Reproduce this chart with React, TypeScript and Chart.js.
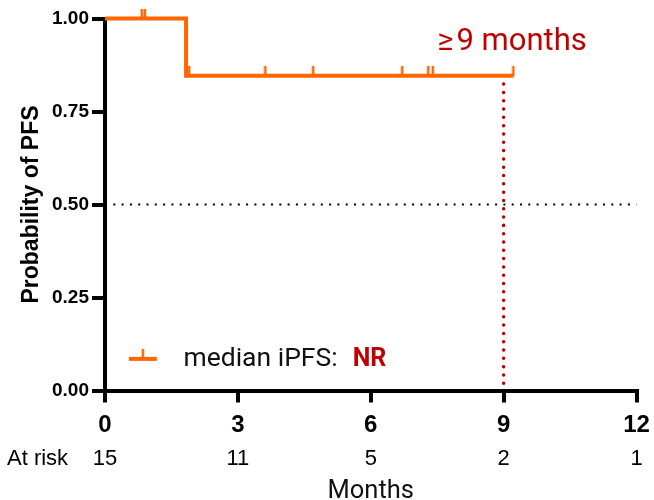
import React, { useEffect, useRef } from "react";
import { Chart, registerables } from "chart.js";

Chart.register(...registerables);

// ---- data ----
const kmTimes = [0, 1.83, 9.22];
const kmSurvival = [1, 0.846, 0.846];
const censorTimes = [0.83, 0.9, 1.9, 3.62, 4.7, 6.71, 7.3, 7.4, 9.22];
const censorSurvival = [1, 1, 0.846, 0.846, 0.846, 0.846, 0.846, 0.846, 0.846];
const xTickValues = [0, 3, 6, 9, 12];
const yTickValues = [0, 0.25, 0.5, 0.75, 1];
const atRiskTimes = [0, 3, 6, 9, 12];
const atRiskCounts = [15, 11, 5, 2, 1];
const medianRefTimes = [9, 9];
const medianRefSurvival = [0.846, 0];
const halfRefTimes = [0, 12];
const halfRefSurvival = [0.5, 0.5];
const annotationSymbol = "≥";
const annotationText = "9 months";
const legendLabel = "median iPFS:";
const legendValue = "NR";

const ORANGE = "#FF6600";
const DARKRED = "#C00000";
const ARIAL = "'Liberation Sans', Arial, sans-serif";
const ROBOTO = "Roboto, 'Liberation Sans', sans-serif";

function makeCensorMark(): HTMLCanvasElement {
  const c = document.createElement("canvas");
  c.width = 4;
  c.height = 19;
  const g = c.getContext("2d")!;
  g.fillStyle = ORANGE;
  g.fillRect(0.75, 0, 2.5, 10);
  return c;
}

export default function App() {
  const ref = useRef<HTMLCanvasElement | null>(null);

  useEffect(() => {
    const canvas = ref.current;
    if (!canvas) return;
    const mark = makeCensorMark();

    const overlay = {
      id: "overlay",
      afterDraw(chart: any) {
        const ctx = chart.ctx as CanvasRenderingContext2D;
        const xs = chart.scales.x;
        const ys = chart.scales.y;
        ctx.save();
        // At-risk row
        ctx.fillStyle = "#000";
        ctx.font = `22px ${ARIAL}`;
        ctx.textBaseline = "alphabetic";
        ctx.textAlign = "left";
        ctx.fillText("At risk", 7, 465);
        ctx.textAlign = "center";
        atRiskTimes.forEach((t, i) => {
          ctx.fillText(String(atRiskCounts[i]), xs.getPixelForValue(t), 465);
        });
        // annotation
        ctx.fillStyle = DARKRED;
        ctx.font = `31px ${ROBOTO}`;
        ctx.textAlign = "left";
        const ax = xs.getPixelForValue(7.5);
        const ay = ys.getPixelForValue(0.915);
        ctx.fillText(annotationSymbol, ax, ay);
        const sw = ctx.measureText(annotationSymbol).width;
        ctx.fillText(annotationText, ax + sw + 3, ay);
        // legend
        const lx1 = xs.getPixelForValue(0.54);
        const lx2 = xs.getPixelForValue(1.17);
        const ly = ys.getPixelForValue(0.085);
        ctx.strokeStyle = ORANGE;
        ctx.lineWidth = 4;
        ctx.beginPath();
        ctx.moveTo(lx1, ly);
        ctx.lineTo(lx2, ly);
        ctx.stroke();
        ctx.drawImage(mark, (lx1 + lx2) / 2 - 2, ly - 9.5);
        ctx.fillStyle = "#111";
        ctx.font = `26.5px ${ROBOTO}`;
        const tx = xs.getPixelForValue(1.77);
        ctx.fillText(legendLabel, tx, ly + 7.5);
        const w = ctx.measureText(legendLabel).width;
        ctx.fillStyle = DARKRED;
        ctx.font = `bold 25px ${ROBOTO}`;
        ctx.fillText(legendValue, tx + w + 15, ly + 7.5);
        ctx.restore();
      },
    };

    const chart = new Chart(canvas, {
      type: "line",
      data: {
        datasets: [
          {
            label: "PFS",
            data: kmTimes.map((t, i) => ({ x: t, y: kmSurvival[i] })),
            stepped: "before",
            borderColor: ORANGE,
            borderWidth: 4,
            pointRadius: 0,
            fill: false,
            clip: false,
          } as any,
          {
            label: "Censored",
            data: censorTimes.map((t, i) => ({ x: t, y: censorSurvival[i] })),
            showLine: false,
            pointStyle: mark,
            pointRadius: 5,
            clip: false,
          } as any,
          {
            label: "9 months",
            data: medianRefTimes.map((t, i) => ({ x: t, y: medianRefSurvival[i] })),
            borderColor: DARKRED,
            borderWidth: 3.5,
            borderDash: [0.01, 8.3],
            borderCapStyle: "round",
            pointRadius: 0,
            fill: false,
            clip: false,
          } as any,
          {
            label: "0.5",
            data: halfRefTimes.map((t, i) => ({ x: t, y: halfRefSurvival[i] })),
            borderColor: "#000",
            borderWidth: 2,
            borderDash: [2, 6.3],
            pointRadius: 0,
            fill: false,
            clip: false,
          } as any,
        ],
      },
      options: {
        animation: false,
        responsive: false,
        events: [],
        layout: { padding: { top: 18.5, right: 17.5, left: 0, bottom: 0 } },
        plugins: { legend: { display: false }, tooltip: { enabled: false } },
        scales: {
          x: {
            type: "linear",
            min: 0,
            max: 12,
            afterBuildTicks: (s: any) => {
              s.ticks = xTickValues.map((v) => ({ value: v }));
            },
            afterFit: (s: any) => {
              s.height = 109.5;
              s.paddingLeft = 0;
              s.paddingRight = 0;
            },
            ticks: {
              color: "#000",
              font: { family: ARIAL, size: 24, weight: "bold" },
              padding: 8,
              autoSkip: false,
              maxRotation: 0,
              callback: (v: any) => String(v),
            },
            grid: { drawOnChartArea: false, drawTicks: true, tickLength: 12, lineWidth: 4, color: "#000" },
            border: { display: true, width: 4, color: "#000" },
            title: {
              display: true,
              text: "Months",
              color: "#111",
              font: { family: ROBOTO, size: 25.5, lineHeight: 0.65 },
              padding: 0,
            },
          },
          y: {
            type: "linear",
            min: 0,
            max: 1,
            afterBuildTicks: (s: any) => {
              s.ticks = yTickValues.map((v) => ({ value: v }));
            },
            afterFit: (s: any) => {
              s.width = 105;
              s.paddingTop = 0;
              s.paddingBottom = 0;
            },
            ticks: {
              color: "#000",
              font: { family: ARIAL, size: 19, weight: "bold" },
              padding: 3,
              autoSkip: false,
              callback: (v: any) => Number(v).toFixed(2),
            },
            grid: { drawOnChartArea: false, drawTicks: true, tickLength: 13, lineWidth: 4, color: "#000" },
            border: { display: true, width: 4, color: "#000" },
            title: {
              display: true,
              text: "Probability of PFS",
              color: "#000",
              font: { family: ARIAL, size: 23, weight: "bold" },
              padding: { top: 17.5, bottom: 0 },
            },
          },
        },
      },
      plugins: [overlay],
    } as any);

    return () => chart.destroy();
  }, []);

  return (
    <div style={{ position: "absolute", left: 0, top: 0, width: 654, height: 500, background: "#fff" }}>
      <canvas ref={ref} width={654} height={500} style={{ width: 654, height: 500, display: "block" }} />
    </div>
  );
}
